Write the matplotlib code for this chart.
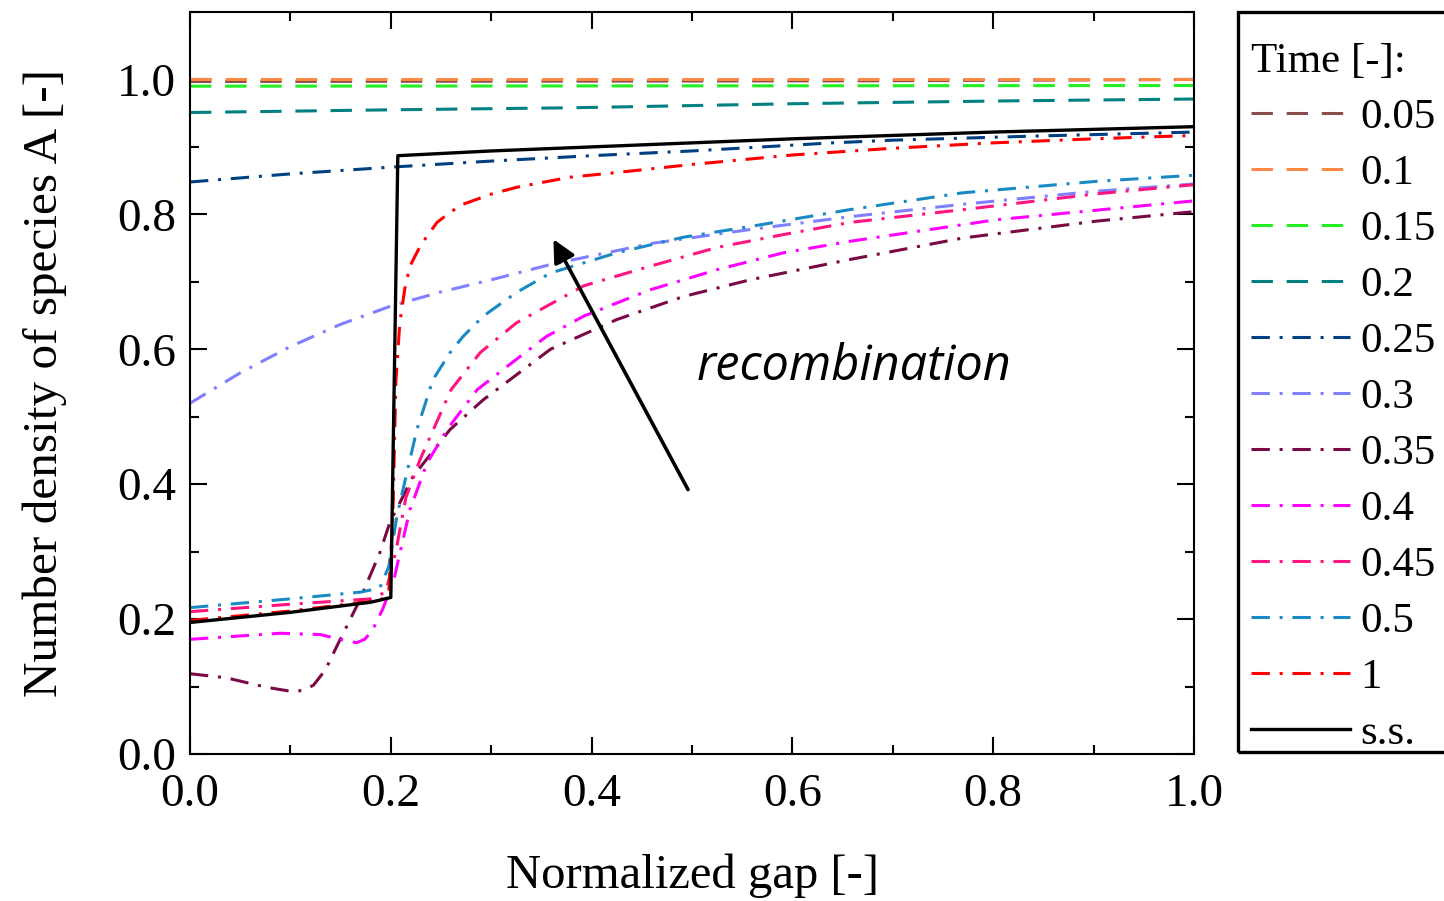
import matplotlib
matplotlib.use("Agg")
import matplotlib.pyplot as plt
from matplotlib.ticker import MultipleLocator
from matplotlib.patches import Rectangle

plt.rcParams['font.family'] = ['Liberation Serif', 'DejaVu Serif']

# ---------------- data ----------------
labels = ["0.05", "0.1", "0.15", "0.2", "0.25", "0.3", "0.35", "0.4", "0.45", "0.5", "1", "s.s."]
colors = ["#8B4C4C", "#FF8844", "#22EE22", "#008080", "#003F80", "#8080FF",
          "#7A0A45", "#FF00FF", "#FF1480", "#1A8AC4", "#FF0000", "#000000"]

x_t005 = [0.0, 0.68, 1.0]
y_t005 = [0.997, 0.998, 1.0]

x_t010 = [0.0, 1.0]
y_t010 = [1.0, 1.0]

x_t015 = [0.0, 1.0]
y_t015 = [0.990, 0.991]

x_t020 = [0.0, 0.2, 0.38, 0.6, 0.8, 1.0]
y_t020 = [0.951, 0.955, 0.958, 0.964, 0.968, 0.971]

x_t025 = [0.0, 0.1, 0.2, 0.3, 0.4, 0.5, 0.64, 0.7, 0.84, 1.0]
y_t025 = [0.848, 0.860, 0.870, 0.879, 0.887, 0.894, 0.906, 0.910, 0.916, 0.922]

x_t030 = [0.0, 0.05, 0.1, 0.15, 0.2, 0.25, 0.3, 0.36, 0.46, 0.56, 0.66, 0.77, 0.9, 1.0]
y_t030 = [0.52, 0.565, 0.604, 0.637, 0.664, 0.685, 0.703, 0.726, 0.757, 0.778, 0.797, 0.815, 0.834, 0.845]

x_t035 = [0.0, 0.036, 0.076, 0.1, 0.112, 0.123, 0.135, 0.146, 0.169, 0.189, 0.199, 0.222, 0.259, 0.292,
          0.359, 0.425, 0.491, 0.558, 0.657, 0.77, 0.903, 1.0]
y_t035 = [0.119, 0.113, 0.099, 0.093, 0.094, 0.102, 0.125, 0.159, 0.228, 0.298, 0.343, 0.411, 0.481, 0.525,
          0.600, 0.644, 0.678, 0.703, 0.733, 0.765, 0.790, 0.804]

x_t040 = [0.0, 0.05, 0.09, 0.13, 0.155, 0.166, 0.174, 0.182, 0.192, 0.203, 0.219, 0.236, 0.256, 0.286, 0.325, 0.355,
          0.392, 0.458, 0.525, 0.591, 0.657, 0.803, 1.0]
y_t040 = [0.170, 0.175, 0.179, 0.177, 0.168, 0.165, 0.170, 0.184, 0.215, 0.258, 0.362, 0.431, 0.481, 0.540, 0.585, 0.619,
          0.649, 0.688, 0.718, 0.743, 0.760, 0.792, 0.820]

x_t045 = [0.0, 0.1, 0.18, 0.195, 0.205, 0.215, 0.229, 0.26, 0.289, 0.325, 0.392, 0.458,
          0.525, 0.591, 0.657, 0.77, 0.9, 1.0]
y_t045 = [0.211, 0.222, 0.230, 0.240, 0.300, 0.380, 0.436, 0.540, 0.595, 0.639, 0.694, 0.723,
          0.751, 0.770, 0.788, 0.807, 0.830, 0.844]

x_t050 = [0.0, 0.1, 0.17, 0.189, 0.198, 0.206, 0.216, 0.226, 0.242, 0.259, 0.272, 0.292,
          0.325, 0.359, 0.425, 0.491, 0.558, 0.657, 0.77, 0.903, 1.0]
y_t050 = [0.217, 0.230, 0.240, 0.246, 0.278, 0.352, 0.417, 0.481, 0.555, 0.595, 0.619, 0.649,
          0.684, 0.713, 0.743, 0.766, 0.782, 0.807, 0.832, 0.849, 0.858]

x_t100 = [0.0, 0.1, 0.19, 0.198, 0.202, 0.205, 0.209, 0.214, 0.219, 0.23, 0.246, 0.259,
          0.272, 0.3, 0.325, 0.378, 0.425, 0.5, 0.6, 0.7, 0.8, 0.9, 1.0]
y_t100 = [0.198, 0.212, 0.228, 0.240, 0.350, 0.550, 0.640, 0.690, 0.723, 0.755, 0.788, 0.803,
          0.815, 0.830, 0.840, 0.855, 0.862, 0.874, 0.888, 0.898, 0.906, 0.912, 0.917]

x_ss = [0.0, 0.1, 0.18, 0.2, 0.207, 0.3, 0.4, 0.5, 0.6, 0.7, 0.8, 0.9, 1.0]
y_ss = [0.195, 0.210, 0.225, 0.232, 0.887, 0.894, 0.900, 0.906, 0.912, 0.917, 0.922, 0.926, 0.930]

series_x = [x_t005, x_t010, x_t015, x_t020, x_t025, x_t030, x_t035, x_t040, x_t045, x_t050, x_t100, x_ss]
series_y = [y_t005, y_t010, y_t015, y_t020, y_t025, y_t030, y_t035, y_t040, y_t045, y_t050, y_t100, y_ss]

tick_vals = [0.0, 0.2, 0.4, 0.6, 0.8, 1.0]
tick_labels = ["0.0", "0.2", "0.4", "0.6", "0.8", "1.0"]

xlabel = "Normalized gap [-]"
ylabel = "Number density of species A [-]"
legend_title = "Time [-]:"
annotation = "recombination"

# ---------------- figure ----------------
fig = plt.figure(figsize=(14.44, 9.01), dpi=100)
ax = fig.add_axes([190/1444, 1 - 754/901, (1194-190)/1444, (754-12)/901])

dash = (7, 4.5)
dashdot = (6, 3.2, 1, 3.2)
for i, (xs, ys, lab, c) in enumerate(zip(series_x, series_y, labels, colors)):
    if i < 4:
        ax.plot(xs, ys, color=c, lw=2.2, dashes=dash, label=lab)
    elif lab == "s.s.":
        ax.plot(xs, ys, color=c, lw=2.4, ls='-', label=lab)
    else:
        ax.plot(xs, ys, color=c, lw=2.2, dashes=dashdot, label=lab)

ax.set_xlim(0, 1.0)
ax.set_ylim(0, 1.1)
ax.xaxis.set_minor_locator(MultipleLocator(0.1))
ax.yaxis.set_minor_locator(MultipleLocator(0.1))
ax.set_xticks(tick_vals)
ax.set_xticklabels(tick_labels)
ax.set_yticks(tick_vals)
ax.set_yticklabels(tick_labels)
ax.tick_params(which='both', direction='in', top=True, right=True, width=1.5)
ax.tick_params(which='major', length=12, labelsize=34)
ax.tick_params(which='minor', length=6.5)
ax.tick_params(axis='x', which='major', pad=14)
ax.tick_params(axis='y', which='major', pad=10)
for s in ax.spines.values():
    s.set_linewidth(1.5)

ax.set_xlabel(xlabel, fontsize=35, labelpad=27)
ax.set_ylabel(ylabel, fontsize=35.5, labelpad=36)

ax.annotate("", xy=(0.362, 0.763), xytext=(0.496, 0.392),
            arrowprops=dict(arrowstyle='-|>', color='black', lw=2.6, mutation_scale=34,
                            shrinkA=0, shrinkB=0))
ax.text(0.505, 0.573, annotation, fontsize=35, style='italic', family='Open Sans',
        ha='left', va='center')

leg = ax.legend(loc='upper left', bbox_to_anchor=(1238/1444, 1 - 30/901),
                bbox_transform=fig.transFigure, fontsize=31, title=legend_title,
                title_fontsize=31, alignment='left', frameon=False,
                handlelength=2.3, handletextpad=0.25,
                labelspacing=0.39, borderpad=0.3, borderaxespad=0)

fig.patches.append(Rectangle((1238/1444, 1 - 752/901), 0.5, (752-12)/901,
                             transform=fig.transFigure, fill=False, edgecolor='black',
                             linewidth=2.4, figure=fig))

fig.savefig("out.png", dpi=100)
